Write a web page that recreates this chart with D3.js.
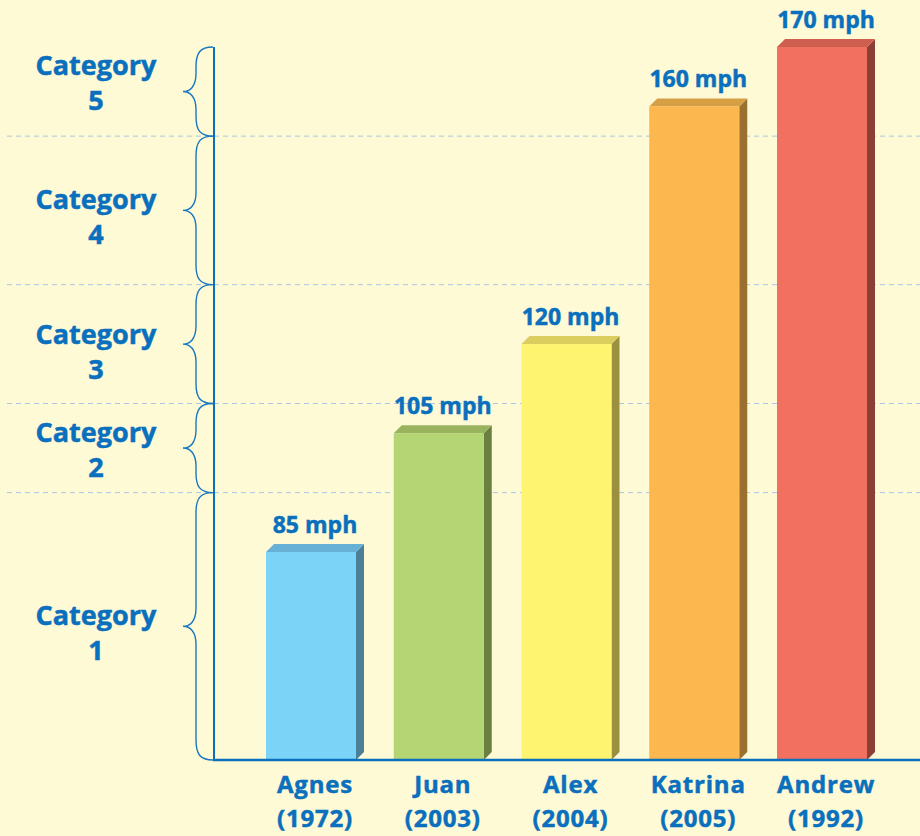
<!DOCTYPE html>
<html><head><meta charset="utf-8">
<script src="https://cdn.jsdelivr.net/npm/d3@7"></script>
<style>
html,body{margin:0;padding:0;background:#fefad6;}
svg{display:block;}
text{font-family:"Open Sans",sans-serif;font-weight:700;fill:#0a70bd;stroke:#0a70bd;stroke-width:0.5;}
</style></head>
<body>
<svg id="chart" width="920" height="836"></svg>
<script>
// ---- data ----
const storms = ["Agnes", "Juan", "Alex", "Katrina", "Andrew"];
const years = ["(1972)", "(2003)", "(2004)", "(2005)", "(1992)"];
const windMph = [85, 105, 120, 160, 170];
const categoryNames = ["Category 1", "Category 2", "Category 3", "Category 4", "Category 5"];
const categoryBounds = [50, 95, 110, 130, 155, 170]; // mph edges of the category bands

// ---- style ----
const frontColors = ["#7cd3f8", "#b5d574", "#fff46f", "#fdb74f", "#f27060"];
const topColors   = ["#67b0d6", "#9ab35f", "#dccd5f", "#d69f44", "#cd5e50"];
const sideColors  = ["#4a7f97", "#6a8040", "#9a9040", "#9a7030", "#8b3f35"];
const labelNudge  = [7, 2, 8, 7, -9];

const svg = d3.select("#chart");
const y = d3.scaleLinear().domain([50, 170]).range([760, 47]);
const x = d3.scaleBand().domain(storms).range([266, 867]).paddingInner(0.2955).paddingOuter(0);
const bw = x.bandwidth();
const depth = 8;
const axisX = 214;

// dashed category boundaries
svg.append("g").selectAll("line").data(categoryBounds.slice(1, -1)).join("line")
  .attr("x1", 7).attr("x2", 920)
  .attr("y1", d => y(d)).attr("y2", d => y(d))
  .attr("stroke", "#a9c6e6").attr("stroke-width", 1).attr("stroke-dasharray", "5,4");

// braces + category labels
const bands = categoryNames.map((n, i) => ({name: n, lo: categoryBounds[i], hi: categoryBounds[i + 1], i}));
function bracePath(yTop, yBot) {
  const ym = (yTop + yBot) / 2, xa = axisX - 1, xs = 196, xt = 183;
  return `M${xa},${yTop} C${xs + 4},${yTop} ${xs},${yTop + 6} ${xs},${yTop + 20}` +
         ` L${xs},${ym - 18} C${xs},${ym - 5} ${xs - 6},${ym} ${xt},${ym}` +
         ` C${xs - 6},${ym} ${xs},${ym + 5} ${xs},${ym + 18}` +
         ` L${xs},${yBot - 20} C${xs},${yBot - 6} ${xs + 4},${yBot} ${xa},${yBot}`;
}
const bg = svg.append("g");
bg.selectAll("path").data(bands).join("path")
  .attr("d", d => bracePath(y(d.hi), y(d.lo)))
  .attr("fill", "none").attr("stroke", "#1877c0").attr("stroke-width", 1.4);
const cl = bg.selectAll("text").data(bands).join("text")
  .attr("text-anchor", "middle").attr("font-size", 27)
  .attr("transform", d => `translate(96,${(y(d.hi) + y(d.lo)) / 2 + labelNudge[d.i]})`);
cl.append("tspan").attr("x", 0).attr("y", -8).text(d => d.name.split(" ")[0]);
cl.append("tspan").attr("x", 0).attr("y", 27).text(d => d.name.split(" ")[1]);

// bars (3D)
const bars = svg.append("g").selectAll("g").data(storms).join("g");
bars.append("path") // side
  .attr("d", (d, i) => {
    const x1 = x(d) + bw, yt = y(windMph[i]), yb = y(50);
    return `M${x1},${yt} L${x1 + depth},${yt - depth} L${x1 + depth},${yb - depth} L${x1},${yb} Z`;
  })
  .attr("fill", (d, i) => sideColors[i]);
bars.append("path") // top
  .attr("d", (d, i) => {
    const x0 = x(d), x1 = x0 + bw, yt = y(windMph[i]);
    return `M${x0},${yt} L${x0 + depth},${yt - depth} L${x1 + depth},${yt - depth} L${x1},${yt} Z`;
  })
  .attr("fill", (d, i) => topColors[i]);
bars.append("rect") // front
  .attr("x", d => x(d)).attr("width", bw)
  .attr("y", (d, i) => y(windMph[i])).attr("height", (d, i) => y(50) - y(windMph[i]))
  .attr("fill", (d, i) => frontColors[i]);

// value labels
bars.append("text")
  .attr("text-anchor", "middle").attr("font-size", 23)
  .attr("x", d => x(d) + bw / 2 + depth / 2)
  .attr("y", (d, i) => y(windMph[i]) - depth - 11)
  .text((d, i) => windMph[i] + " mph");

// axes lines
svg.append("line").attr("x1", axisX).attr("x2", axisX).attr("y1", y(170)).attr("y2", y(50))
  .attr("stroke", "#0a70bd").attr("stroke-width", 2);
svg.append("line").attr("x1", axisX - 1).attr("x2", 920).attr("y1", y(50)).attr("y2", y(50))
  .attr("stroke", "#0a70bd").attr("stroke-width", 2.5);

// x labels (two separate texts per storm)
const xg = svg.append("g").selectAll("g").data(storms).join("g")
  .attr("transform", d => `translate(${x(d) + bw / 2 + depth / 2},0)`);
xg.append("text").attr("text-anchor", "middle").attr("font-size", 24).attr("letter-spacing", 0.8)
  .attr("y", 793).text(d => d);
xg.append("text").attr("text-anchor", "middle").attr("font-size", 24).attr("letter-spacing", 0.8)
  .attr("y", 827).text((d, i) => years[i]);
</script>
</body></html>
